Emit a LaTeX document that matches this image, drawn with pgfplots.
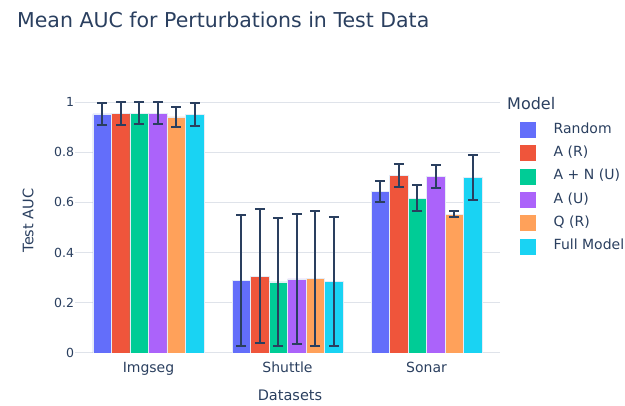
\documentclass[border=0pt]{standalone}
\usepackage{pgfplots}
\pgfplotsset{compat=1.18}
\usepackage{fontspec}
\setmainfont{DejaVu Sans}
\definecolor{c1}{HTML}{636EFA}
\definecolor{c2}{HTML}{EF553B}
\definecolor{c3}{HTML}{00CC96}
\definecolor{c4}{HTML}{AB63FA}
\definecolor{c5}{HTML}{FFA15A}
\definecolor{c6}{HTML}{19D3F3}
\definecolor{txt}{HTML}{2A3F5F}
\definecolor{gridc}{HTML}{DFE3EA}
\definecolor{edge}{HTML}{E5ECF6}
\pgfplotsset{
  mybar/.style={fill=#1, draw=edge, line width=0.5pt,
    legend image code/.code={\fill[#1] (0pt,-7.5pt) rectangle (15pt,7.5pt);},
    error bars/.cd, y dir=both, y explicit,
    error bar style={color=txt, line width=2pt},
    error mark options={rotate=90, color=txt, mark size=4.8pt, line width=2pt}},
}
\begin{document}
\begin{tikzpicture}[x=1pt,y=1pt]
\path[use as bounding box] (0,0) rectangle (625,406);
\begin{axis}[at={(79pt,53pt)}, anchor=south west, scale only axis,
  width=417pt, height=265pt,
  xmin=-0.5, xmax=2.5, ymin=0, ymax=1.056,
  ybar=0pt, bar width=18.5pt,
  xtick={0,1,2}, xticklabels={Imgseg,Shuttle,Sonar},
  ytick={0,0.2,0.4,0.6,0.8,1},
  axis line style={draw=none},
  xtick style={draw=none}, major tick length=4pt, ytick align=outside,
  ytick style={color=gridc, line width=1pt},
  ymajorgrids, grid style={color=gridc, line width=1pt},
  /pgf/number format/assume math mode=true,
  xticklabel style={font=\fontsize{14}{16}\selectfont, text=txt, yshift=-1.3pt},
  yticklabel style={font=\fontsize{12.5}{15}\selectfont, text=txt, xshift=2.5pt},
  xlabel={Datasets}, ylabel={Test AUC},
  every axis x label/.style={at={(axis description cs:0.506,-0.158)}, anchor=center,
    font=\fontsize{14.5}{17}\selectfont, text=txt},
  every axis y label/.style={at={(axis description cs:-0.122,0.5)}, anchor=center, rotate=90,
    font=\fontsize{14.5}{17}\selectfont, text=txt},
  legend style={at={(1.0576,0.872)}, anchor=north west, draw=none, fill=none,
    inner sep=0pt, font=\fontsize{14}{16}\selectfont, text=txt, row sep=7.8pt,
    nodes={inner sep=0pt, text height=10pt, text depth=3pt},
    /tikz/every even column/.append style={column sep=0pt},
    /tikz/every odd column/.append style={column sep=18pt}},
  legend cell align=left,
]
\addplot+[mybar=c1] coordinates {(0,0.953) +- (0,0.043) (1,0.289) +- (0,0.260) (2,0.643) +- (0,0.043)};
\addplot+[mybar=c2] coordinates {(0,0.955) +- (0,0.046) (1,0.305) +- (0,0.267) (2,0.708) +- (0,0.046)};
\addplot+[mybar=c3] coordinates {(0,0.955) +- (0,0.044) (1,0.283) +- (0,0.256) (2,0.617) +- (0,0.051)};
\addplot+[mybar=c4] coordinates {(0,0.956) +- (0,0.044) (1,0.295) +- (0,0.260) (2,0.703) +- (0,0.047)};
\addplot+[mybar=c5] coordinates {(0,0.941) +- (0,0.039) (1,0.296) +- (0,0.268) (2,0.553) +- (0,0.012)};
\addplot+[mybar=c6] coordinates {(0,0.951) +- (0,0.046) (1,0.285) +- (0,0.257) (2,0.700) +- (0,0.090)};
\legend{Random, A (R), A + N (U), A (U), Q (R), Full Model}
\end{axis}
\node[anchor=base west, font=\fontsize{16}{18}\selectfont, text=txt, inner sep=0pt] at (507,296) {Model};
\node[anchor=base west, font=\fontsize{20.5}{24}\selectfont, text=txt, inner sep=0pt] at (17,378) {Mean AUC for Perturbations in Test Data};
\end{tikzpicture}
\end{document}
